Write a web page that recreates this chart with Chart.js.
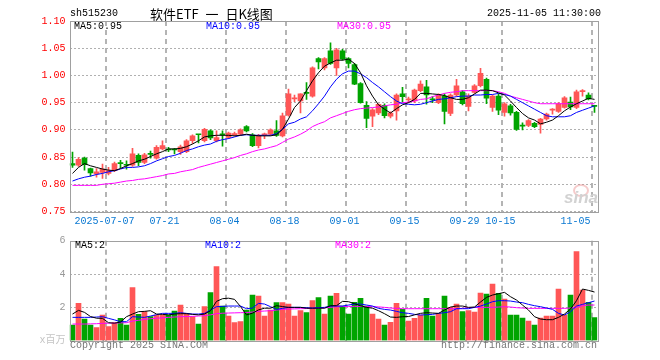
<!DOCTYPE html>
<html>
<head>
<meta charset="utf-8">
<script src="https://cdn.jsdelivr.net/npm/chart.js@4.4.1/dist/chart.umd.min.js"></script>
<style>
body { margin: 0; background: #fff; }
#wrap { position: relative; width: 660px; height: 360px; overflow: hidden; font-family: "Liberation Mono", "Noto Sans CJK SC", monospace; font-size: 10px; }
.t { position: absolute; white-space: pre; line-height: 12px; }
canvas { position: absolute; left: 0; }
</style>
</head>
<body>
<div id="wrap">
	<canvas id="price" width="660" height="232" style="top:0"></canvas>
	<canvas id="vol" width="660" height="130" style="top:230px"></canvas>
	<div class="t" style="left:70px;top:8px">sh515230</div>
	<div class="t" style="left:150px;top:5px;font:13px/18px 'Noto Sans CJK SC';word-spacing:4px">软件ETF 一 日K线图</div>
	<div class="t" style="left:487px;top:8px">2025-11-05 11:30:00</div>
	<div class="t" style="left:74px;top:21px;color:#000">MA5:0.95</div>
	<div class="t" style="left:206px;top:21px;color:#0000ff">MA10:0.95</div>
	<div class="t" style="left:337px;top:21px;color:#ff00ff">MA30:0.95</div>
	<div class="t" style="left:75px;top:240px;color:#000">MA5:2</div>
	<div class="t" style="left:205px;top:240px;color:#0000ff">MA10:2</div>
	<div class="t" style="left:335px;top:240px;color:#ff00ff">MA30:2</div>
	<div class="t" style="left:70px;top:340px;color:#777">Copyright 2025 SINA.COM</div>
	<div class="t" style="right:63px;top:340px;color:#777">http://finance.sina.com.cn</div>
	<div style="position:absolute;left:573px;top:184px;width:12px;height:9px;border:2px solid rgba(235,140,140,0.45);border-radius:50%"></div>
	<div class="t" style="left:564px;top:189px;font:italic bold 17px/17px 'Liberation Sans';color:#d2d2d2">sina</div>
</div>
<script>
// daily bars, 2025-06-27 .. 2025-11-05
var dates = ['2025-06-27','2025-06-30','2025-07-01','2025-07-02','2025-07-03','2025-07-04','2025-07-07','2025-07-08','2025-07-09','2025-07-10',
	'2025-07-11','2025-07-14','2025-07-15','2025-07-16','2025-07-17','2025-07-18','2025-07-21','2025-07-22','2025-07-23','2025-07-24',
	'2025-07-25','2025-07-28','2025-07-29','2025-07-30','2025-07-31','2025-08-01','2025-08-04','2025-08-05','2025-08-06','2025-08-07',
	'2025-08-08','2025-08-11','2025-08-12','2025-08-13','2025-08-14','2025-08-15','2025-08-18','2025-08-19','2025-08-20','2025-08-21',
	'2025-08-22','2025-08-25','2025-08-26','2025-08-27','2025-08-28','2025-08-29','2025-09-01','2025-09-02','2025-09-03','2025-09-04',
	'2025-09-05','2025-09-08','2025-09-09','2025-09-10','2025-09-11','2025-09-12','2025-09-15','2025-09-16','2025-09-17','2025-09-18',
	'2025-09-19','2025-09-22','2025-09-23','2025-09-24','2025-09-25','2025-09-26','2025-09-29','2025-09-30','2025-10-09','2025-10-10',
	'2025-10-13','2025-10-14','2025-10-15','2025-10-16','2025-10-17','2025-10-20','2025-10-21','2025-10-22','2025-10-23','2025-10-24',
	'2025-10-27','2025-10-28','2025-10-29','2025-10-30','2025-10-31','2025-11-03','2025-11-04','2025-11-05'];

var openPx = [0.838,0.835,0.848,0.829,0.819,0.822,0.820,0.825,0.839,0.836,
	0.835,0.853,0.840,0.856,0.848,0.865,0.864,0.864,0.860,0.860,
	0.880,0.892,0.880,0.898,0.880,0.892,0.886,0.891,0.892,0.906,
	0.891,0.871,0.891,0.892,0.898,0.889,0.927,0.957,0.953,0.968,
	0.962,1.031,1.014,1.045,1.014,1.045,1.031,1.020,0.985,0.945,
	0.925,0.931,0.945,0.925,0.935,0.966,0.955,0.953,0.972,0.979,
	0.956,0.950,0.962,0.930,0.964,0.970,0.943,0.969,0.981,0.993,
	0.941,0.962,0.932,0.944,0.932,0.908,0.908,0.912,0.910,0.920,
	0.936,0.934,0.941,0.951,0.941,0.970,0.964,0.944];
var highPx = [0.859,0.849,0.850,0.830,0.829,0.837,0.831,0.841,0.844,0.843,
	0.866,0.856,0.857,0.861,0.871,0.880,0.868,0.866,0.872,0.882,
	0.891,0.892,0.903,0.900,0.898,0.898,0.896,0.896,0.902,0.908,
	0.893,0.892,0.894,0.902,0.917,0.931,0.975,0.964,0.966,0.987,
	1.016,1.033,1.033,1.060,1.050,1.048,1.033,1.022,0.987,0.952,
	0.939,0.948,0.948,0.933,0.966,0.978,0.960,0.975,0.990,0.991,
	0.961,0.966,0.966,0.966,0.993,0.972,0.966,0.983,1.013,0.995,
	0.964,0.966,0.950,0.947,0.934,0.913,0.919,0.914,0.921,0.931,
	0.939,0.950,0.961,0.960,0.973,0.974,0.968,0.945];
var lowPx = [0.831,0.833,0.826,0.815,0.813,0.811,0.817,0.823,0.830,0.828,
	0.833,0.834,0.838,0.848,0.846,0.863,0.860,0.856,0.855,0.858,
	0.875,0.876,0.878,0.882,0.878,0.870,0.884,0.889,0.890,0.896,
	0.869,0.867,0.884,0.890,0.888,0.887,0.925,0.952,0.931,0.956,
	0.960,1.012,1.010,1.020,1.000,1.028,1.014,0.983,0.949,0.904,
	0.906,0.928,0.922,0.922,0.918,0.951,0.950,0.950,0.970,0.947,
	0.950,0.948,0.911,0.926,0.962,0.946,0.935,0.967,0.979,0.948,
	0.934,0.928,0.925,0.927,0.899,0.900,0.906,0.904,0.894,0.918,
	0.929,0.932,0.940,0.937,0.939,0.962,0.955,0.932];
var closePx = [0.835,0.846,0.836,0.821,0.823,0.828,0.825,0.838,0.838,0.835,
	0.856,0.840,0.854,0.855,0.868,0.871,0.863,0.863,0.869,0.880,
	0.889,0.891,0.901,0.885,0.886,0.891,0.894,0.893,0.900,0.898,
	0.871,0.890,0.892,0.900,0.890,0.926,0.966,0.958,0.966,0.967,
	1.014,1.025,1.031,1.022,1.047,1.030,1.022,0.984,0.950,0.921,
	0.937,0.947,0.926,0.931,0.964,0.961,0.957,0.973,0.984,0.964,
	0.955,0.964,0.934,0.964,0.981,0.948,0.962,0.981,1.004,0.958,
	0.962,0.936,0.948,0.931,0.901,0.907,0.917,0.906,0.920,0.929,
	0.938,0.948,0.959,0.942,0.970,0.972,0.957,0.943];

var ma5 = [0.820,0.831,0.838,0.834,0.831,0.828,0.826,0.825,0.829,0.834,
	0.838,0.843,0.846,0.851,0.856,0.860,0.865,0.865,0.866,0.869,
	0.874,0.880,0.887,0.889,0.890,0.890,0.890,0.889,0.890,0.892,
	0.890,0.889,0.889,0.889,0.891,0.901,0.920,0.941,0.953,0.972,
	0.990,1.005,1.017,1.023,1.028,1.028,1.030,1.022,1.005,0.981,
	0.962,0.946,0.938,0.931,0.939,0.946,0.950,0.956,0.967,0.967,
	0.966,0.965,0.963,0.959,0.956,0.956,0.959,0.966,0.973,0.973,
	0.972,0.968,0.964,0.953,0.941,0.930,0.922,0.918,0.911,0.914,
	0.918,0.926,0.935,0.942,0.948,0.953,0.958,0.956];
var ma10 = [0.806,0.810,0.813,0.815,0.818,0.820,0.823,0.825,0.828,0.831,
	0.831,0.832,0.834,0.838,0.843,0.847,0.851,0.853,0.857,0.862,
	0.865,0.869,0.872,0.874,0.879,0.882,0.884,0.887,0.890,0.891,
	0.890,0.890,0.890,0.890,0.893,0.901,0.911,0.914,0.920,0.924,
	0.935,0.948,0.962,0.979,0.993,1.003,1.008,1.008,1.003,0.996,
	0.987,0.979,0.970,0.961,0.953,0.948,0.947,0.946,0.947,0.950,
	0.953,0.956,0.957,0.959,0.961,0.962,0.962,0.964,0.964,0.965,
	0.965,0.967,0.965,0.962,0.956,0.950,0.944,0.938,0.932,0.926,
	0.924,0.924,0.924,0.926,0.932,0.936,0.940,0.944];
var ma30 = [0.798,0.798,0.798,0.798,0.798,0.800,0.801,0.802,0.804,0.806,
	0.807,0.809,0.810,0.812,0.814,0.816,0.819,0.820,0.823,0.825,
	0.827,0.831,0.834,0.837,0.840,0.843,0.846,0.849,0.853,0.856,
	0.860,0.863,0.865,0.868,0.871,0.877,0.883,0.887,0.892,0.898,
	0.906,0.911,0.915,0.922,0.926,0.930,0.934,0.937,0.939,0.940,
	0.941,0.942,0.944,0.946,0.947,0.950,0.951,0.953,0.956,0.957,
	0.961,0.964,0.967,0.969,0.970,0.972,0.972,0.972,0.972,0.972,
	0.972,0.970,0.967,0.962,0.959,0.956,0.953,0.950,0.948,0.948,
	0.948,0.948,0.948,0.948,0.948,0.948,0.948,0.948];

// volume, millions
var volume = [0.94,2.24,1.30,0.94,0.78,1.54,0.84,1.08,1.34,0.94,
	3.18,1.58,1.74,1.44,1.54,1.54,1.54,1.78,2.14,1.64,
	1.44,1.00,2.04,2.88,4.44,2.08,1.48,1.08,1.14,1.84,
	2.74,2.68,1.48,1.84,2.28,2.28,2.20,1.48,1.80,1.68,
	2.40,2.58,1.60,2.68,2.84,2.08,1.60,2.30,2.54,2.08,
	1.60,1.30,0.94,1.10,2.24,1.88,1.18,1.34,1.54,2.54,
	1.48,1.64,2.68,2.00,2.20,1.74,1.80,1.72,2.86,2.80,
	3.40,2.84,2.50,1.54,1.54,1.36,1.18,0.94,1.36,1.48,
	1.48,3.10,1.54,2.74,5.34,3.04,2.30,1.38];
var volMa5 = [1.60,1.82,1.70,1.45,1.35,1.34,1.08,1.05,1.12,1.44,
	1.60,1.74,1.76,1.80,1.60,1.58,1.55,1.60,1.62,1.62,
	1.58,1.55,1.60,1.80,2.36,2.52,2.55,2.48,2.05,1.55,
	1.65,1.85,1.95,1.95,2.10,2.05,2.00,2.00,2.00,1.95,
	1.95,1.95,1.95,2.10,2.10,2.36,2.34,2.22,2.10,2.00,
	1.95,1.80,1.62,1.42,1.40,1.44,1.45,1.55,1.64,1.68,
	1.66,1.64,1.84,2.02,2.08,2.08,2.00,2.02,2.32,2.60,
	2.74,2.82,2.90,2.64,2.44,2.14,1.84,1.44,1.30,1.26,
	1.26,1.40,1.60,1.90,2.40,3.10,3.02,2.92];
var volMa10 = [1.40,1.40,1.40,1.40,1.42,1.44,1.34,1.25,1.14,1.14,
	1.44,1.42,1.40,1.48,1.56,1.64,1.64,1.64,1.68,1.64,
	1.60,1.60,1.64,1.84,2.04,2.06,2.08,2.08,2.08,1.92,
	1.96,2.24,2.20,2.04,1.88,1.94,2.00,2.00,2.00,1.98,
	1.96,1.98,2.00,2.08,2.08,2.08,2.14,2.20,2.20,2.14,
	2.08,1.94,1.88,1.84,1.76,1.68,1.64,1.58,1.54,1.56,
	1.58,1.64,1.68,1.74,1.92,1.92,1.92,2.00,2.08,2.20,
	2.34,2.40,2.40,2.38,2.32,2.28,2.18,2.10,2.04,1.96,
	1.88,1.64,1.54,1.74,2.08,2.18,2.28,2.38];
var volMa30 = [1.00,1.00,1.00,1.01,1.02,1.04,1.05,1.06,1.07,1.08,
	1.18,1.22,1.28,1.32,1.35,1.37,1.40,1.42,1.44,1.45,
	1.46,1.48,1.50,1.55,1.62,1.65,1.66,1.67,1.68,1.69,
	1.72,1.76,1.78,1.80,1.84,1.88,1.90,1.91,1.92,1.93,
	1.94,1.96,1.97,2.00,2.04,2.05,2.05,2.06,2.06,2.05,
	2.04,2.03,2.00,1.96,1.94,1.92,1.92,1.92,1.92,1.92,
	1.92,1.92,1.92,1.92,1.92,1.94,1.98,2.00,2.00,2.00,
	2.00,2.02,2.04,2.02,1.98,1.96,1.94,1.94,1.94,1.94,
	1.94,1.94,1.94,1.96,2.00,2.10,2.14,2.14];

// x labels shown under the price chart
var tickDates = ['2025-07-07','2025-07-21','2025-08-04','2025-08-18','2025-09-01','2025-09-15','2025-09-29','2025-10-15','2025-11-05'];
var tickText = ['2025-07-07','07-21','08-04','08-18','09-01','09-15','09-29','10-15','11-05     '];
var volUnit = 'x百万';

var UP = '#ff5656', DOWN = '#00a400';
var candleColor = closePx.map(function(c, i) { return c >= openPx[i] ? UP : DOWN; });
var mono = { family: "'Liberation Mono', 'Noto Sans CJK SC', monospace", size: 10 };

function vLine(c) {
	return tickDates.indexOf(dates[c.index]) >= 0 ? '#b4b4b4' : 'rgba(0,0,0,0)';
}

var frame = {
	id: 'frame',
	afterDatasetsDraw: function(chart) {
		var a = chart.chartArea, ctx = chart.ctx;
		ctx.save();
		ctx.strokeStyle = '#a0a0a0';
		ctx.lineWidth = 1;
		ctx.strokeRect(Math.round(a.left) + 0.5, Math.round(a.top) + 0.5, Math.round(a.right - a.left), Math.round(a.bottom - a.top));
		ctx.restore();
	}
};

function maLine(data, color) {
	return { type: 'line', data: data, borderColor: color, borderWidth: 1, pointRadius: 0, tension: 0, order: 0 };
}

new Chart(document.getElementById('price'), {
	type: 'bar',
	data: {
		labels: dates,
		datasets: [
			{ data: lowPx.map(function(l, i) { return [l, highPx[i]]; }), backgroundColor: candleColor, barThickness: 1, grouped: false, order: 2 },
			{ data: openPx.map(function(o, i) { return [o, closePx[i]]; }), backgroundColor: candleColor, barThickness: 5, minBarLength: 1, grouped: false, order: 1 },
			maLine(ma5, '#000000'),
			maLine(ma10, '#0000ff'),
			maLine(ma30, '#ff00ff')
		]
	},
	options: {
		responsive: false, animation: false, events: [],
		layout: { padding: { top: 21, right: 62.5, bottom: 0, left: 0 } },
		plugins: { legend: { display: false }, tooltip: { enabled: false } },
		scales: {
			x: {
				offset: true,
				afterFit: function(s) { s.height = 20.5; },
				border: { display: false, dash: [5, 4] },
				grid: { offset: true, drawTicks: false, lineWidth: 2, color: vLine },
				ticks: {
					autoSkip: false, maxRotation: 0, minRotation: 0, padding: 4, labelOffset: -4,
					color: '#0a78d2', font: mono,
					callback: function(v, i) { var k = tickDates.indexOf(dates[i]); return k < 0 ? '' : tickText[k]; }
				}
			},
			y: {
				min: 0.75, max: 1.10,
				afterFit: function(s) { s.width = 69.5; },
				border: { display: false, dash: [2, 2] },
				grid: { drawTicks: false, color: '#b0b0b0' },
				ticks: { stepSize: 0.05, padding: 4, color: '#ff0000', font: mono, callback: function(v) { return v.toFixed(2); } }
			}
		}
	},
	plugins: [frame]
});

new Chart(document.getElementById('vol'), {
	type: 'bar',
	data: {
		labels: dates,
		datasets: [
			{ data: volume, backgroundColor: candleColor, barThickness: 5, grouped: false, order: 1 },
			maLine(volMa5, '#000000'),
			maLine(volMa10, '#0000ff'),
			maLine(volMa30, '#ff00ff')
		]
	},
	options: {
		responsive: false, animation: false, events: [],
		layout: { padding: { top: 10.7, right: 62.5, bottom: 19.3, left: 0 } },
		plugins: { legend: { display: false }, tooltip: { enabled: false } },
		scales: {
			x: {
				offset: true,
				afterFit: function(s) { s.height = 0; },
				border: { display: false, dash: [5, 4] },
				grid: { offset: true, drawTicks: false, lineWidth: 2, color: vLine },
				ticks: { display: false, autoSkip: false }
			},
			y: {
				min: 0, max: 6,
				afterFit: function(s) { s.width = 69.5; },
				border: { display: false, dash: [2, 2] },
				grid: { drawTicks: false, color: function(c) { return c.tick && (c.tick.value === 2 || c.tick.value === 4) ? '#b0b0b0' : 'rgba(0,0,0,0)'; } },
				ticks: {
					stepSize: 2, padding: 4, font: mono,
					color: function(c) { return c.tick && c.tick.value === 0 ? '#c4c4c4' : '#999999'; },
					callback: function(v) { return v === 0 ? volUnit : v; }
				}
			}
		}
	},
	plugins: [frame]
});
</script>
</body>
</html>
